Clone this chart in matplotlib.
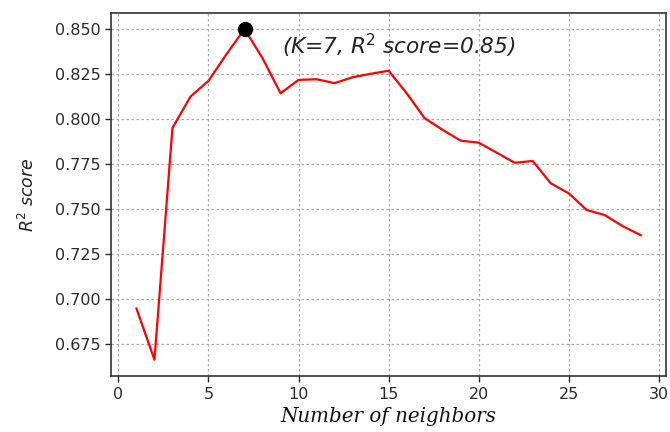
import matplotlib
matplotlib.use("Agg")
import matplotlib.pyplot as plt

# R^2 score of the KNN regressor for each number of neighbours
neighbors = list(range(1, 30))
r2_scores = [0.6945, 0.666, 0.795, 0.8124, 0.8212, 0.836, 0.850, 0.8338,
             0.8143, 0.8217, 0.8221, 0.8199, 0.8232, 0.8251, 0.8268, 0.8143,
             0.8004, 0.7939, 0.7879, 0.7868, 0.7812, 0.7756, 0.7766, 0.7642,
             0.7586, 0.7493, 0.7465, 0.7403, 0.7353]
best_k = 7
best_score = 0.85
y_ticks = [0.675, 0.700, 0.725, 0.750, 0.775, 0.800, 0.825, 0.850]

fig = plt.figure(figsize=(6.7, 4.32), dpi=100)
ax = fig.add_axes([0.166, 0.129, 0.828, 0.842])

ax.plot(neighbors, r2_scores, color="red", linewidth=1.6, zorder=3)
ax.plot([best_k], [best_score], "o", color="black", markersize=10, zorder=4)
ax.text(best_k + 2.1, best_score - 0.0092,
        "(K=%d, R$^2$ score=%.2f)" % (best_k, best_score),
        fontsize=15.6, style="italic", color="#222222",
        ha="left", va="center")

ax.set_yticks(y_ticks)
ax.set_yticklabels(["%.3f" % v for v in y_ticks])
ax.set_xticks([0, 5, 10, 15, 20, 25, 30])
ax.tick_params(labelsize=11.5, length=4, width=1, colors="#2a2a2a")

ax.grid(True, color="#aaaaaa", linestyle=(0, (2, 2)), linewidth=0.9)
ax.set_axisbelow(True)
for s in ax.spines.values():
    s.set_color("#333333")
    s.set_linewidth(1.2)

ax.set_xlabel("Number of neighbors", family="DejaVu Serif", style="italic",
              fontsize=14.3, color="#111111", labelpad=4)
ax.set_ylabel("R$^2$ score", fontsize=12.5, style="italic", color="#222222",
              labelpad=12)

fig.savefig("out.png", dpi=100)
